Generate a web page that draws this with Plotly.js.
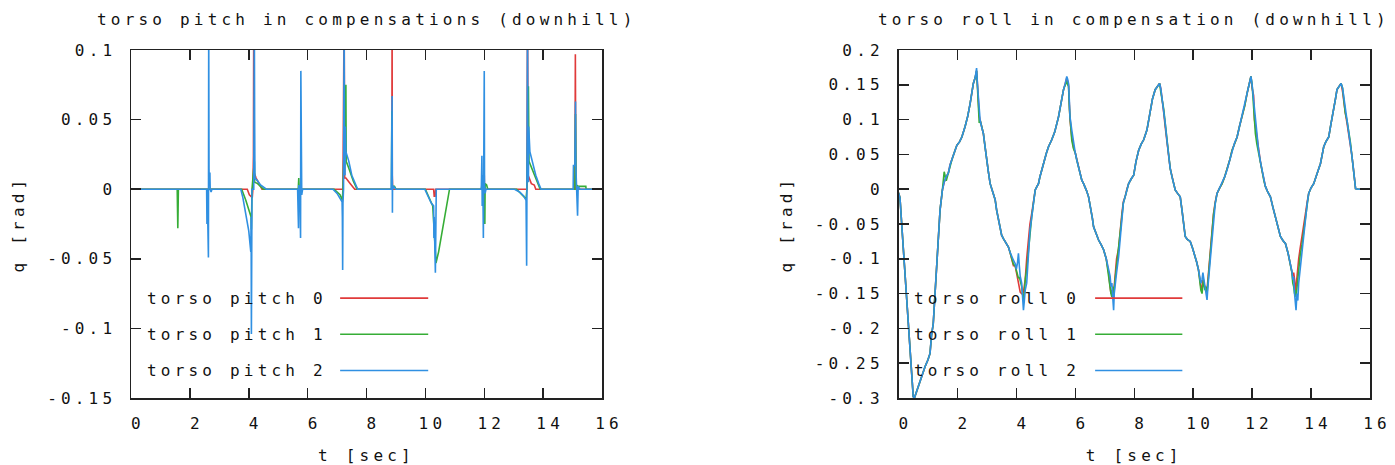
<!DOCTYPE html>
<html>
<head>
<meta charset="utf-8">
<script src="https://cdn.plot.ly/plotly-3.0.1.min.js"></script>
<style>
html,body{margin:0;padding:0;background:#fff;}
#chart{width:1395px;height:465px;}
svg text{letter-spacing:4.2px;}
</style>
</head>
<body>
<div id="chart"></div>
<script>
// ---------- labels ----------
const pitchTitle = "torso pitch in compensations (downhill)";
const rollTitle = "torso roll in compensation (downhill)";
const pitchNames = ["torso pitch 0", "torso pitch 1", "torso pitch 2"];
const rollNames = ["torso roll 0", "torso roll 1", "torso roll 2"];
const seriesColors = ["#e03a3a", "#36ad36", "#3090e2"];
const xTickVals = [0, 2, 4, 6, 8, 10, 12, 14, 16];
const xTickText = ["0", "2", "4", "6", "8", "10", "12", "14", "16"];
const pitchTickVals = [0.1, 0.05, 0, -0.05, -0.1, -0.15];
const pitchTickText = ["0.1", "0.05", "0", "-0.05", "-0.1", "-0.15"];
const rollTickVals = [0.2, 0.15, 0.1, 0.05, 0, -0.05, -0.1, -0.15, -0.2, -0.25, -0.3];
const rollTickText = ["0.2", "0.15", "0.1", "0.05", "0", "-0.05", "-0.1", "-0.15", "-0.2", "-0.25", "-0.3"];

// ---------- torso pitch: [t, q] samples ----------
const pitch0 = [
  [0,0],[3.95,0],[4.02,-0.004],[4.12,-0.006],[4.14,0],[4.16,0.024],[4.17,0.13],[4.18,0.012],[4.25,0.008],[4.35,0.004],[4.45,0],
  [7.2,0],[7.24,0.13],[7.26,0.008],[7.3,0.008],[7.45,0.004],[7.6,0],
  [8.86,0],[8.87,0.13],[8.875,0.01],[8.89,0],
  [10.28,0],[10.3,-0.005],[10.33,-0.005],[10.35,0],
  [11.98,0],[12.0,0.01],[12.01,0],
  [13.45,0],[13.47,0.13],[13.49,0.01],[13.6,0.004],[13.7,0.003],[13.75,0],
  [15.08,0],[15.095,0.097],[15.11,0.01],[15.13,0],[16,0]
];
const pitch1 = [
  [0,0],[1.57,0],[1.58,-0.014],[1.59,-0.028],[1.6,-0.014],[1.61,0],
  [3.76,0],[3.9,-0.008],[4.0,-0.014],[4.08,-0.02],[4.09,-0.029],[4.1,-0.012],[4.11,0],[4.19,0.02],[4.2,0.005],[4.3,0.004],[4.5,0],
  [5.68,0],[5.7,0.008],[5.72,-0.003],[5.74,0],
  [6.9,0],[7.1,-0.004],[7.18,-0.008],[7.2,0],[7.3,0.075],[7.31,0.02],[7.4,0.015],[7.55,0.006],[7.68,0],
  [8.85,0],[8.86,0.056],[8.87,0.002],[8.95,0.002],[9.0,0],
  [10.0,0],[10.15,-0.007],[10.25,-0.012],[10.3,-0.03],[10.36,-0.053],[10.45,-0.045],[10.55,-0.032],[10.65,-0.02],[10.72,-0.01],[10.82,0],
  [11.9,0],[11.93,0.004],[11.96,-0.004],[12.0,0.004],[12.02,-0.025],[12.03,0.004],[12.08,0.003],[12.12,0],
  [13.1,0],[13.3,-0.004],[13.42,-0.007],[13.45,0],[13.5,0.074],[13.52,0.02],[13.6,0.016],[13.7,0.01],[13.82,0.004],[13.9,0],
  [15.08,0],[15.1,0.054],[15.12,0.003],[15.2,0.002],[15.45,0.002],[15.46,0],[16,0]
];
const pitch2 = [
  [0,0],[2.57,0],[2.58,-0.025],[2.59,0],[2.63,-0.049],[2.64,0.12],[2.65,0.015],[2.66,0.003],[2.68,0.012],[2.69,0],[2.72,-0.002],[2.75,0],
  [3.73,0],[3.8,-0.006],[3.9,-0.018],[4.0,-0.03],[4.07,-0.045],[4.08,-0.02],[4.09,-0.104],[4.1,-0.045],[4.11,0],[4.17,0],[4.18,0.024],[4.19,0.12],[4.2,0.05],[4.21,0.008],[4.3,0.006],[4.4,0.003],[4.6,0],
  [5.66,0],[5.69,-0.028],[5.7,0.003],[5.74,-0.002],[5.76,-0.035],[5.77,0.085],[5.78,0.05],[5.79,0.005],[5.8,-0.004],[5.83,0],
  [6.86,0],[7.0,-0.003],[7.1,-0.006],[7.17,-0.009],[7.18,-0.02],[7.19,-0.058],[7.2,-0.01],[7.22,0],[7.24,0.12],[7.25,0.045],[7.27,0.01],[7.28,0.045],[7.3,0.027],[7.4,0.02],[7.5,0.01],[7.6,0.005],[7.7,0],
  [8.84,0],[8.85,0.017],[8.86,0.012],[8.87,0.067],[8.88,-0.017],[8.885,0.003],[8.9,0],[8.92,0.002],[9.0,0],
  [9.98,0],[10.1,-0.005],[10.2,-0.01],[10.28,-0.012],[10.29,-0.035],[10.3,-0.02],[10.34,-0.06],[10.35,-0.01],[10.37,0],
  [11.9,0],[11.92,0.024],[11.93,-0.012],[11.95,0.01],[11.97,-0.035],[11.98,0],[12.0,0.085],[12.01,0.003],[12.03,-0.003],[12.06,0],
  [13.03,0],[13.2,-0.002],[13.35,-0.005],[13.42,-0.008],[13.44,-0.055],[13.45,0],[13.47,0.12],[13.48,0.045],[13.5,0.005],[13.51,0.045],[13.55,0.027],[13.65,0.018],[13.75,0.01],[13.85,0.004],[13.93,0],
  [15.02,0],[15.03,0.017],[15.08,0.017],[15.1,0.063],[15.11,0.017],[15.14,0.003],[15.17,-0.019],[15.19,0.002],[15.25,0],[16,0]
];

// ---------- torso roll: shared time axis and three series ----------
const rollT = [
  0.00,0.05,0.16,0.25,0.33,0.42,0.50,0.54,0.62,0.70,
  0.79,0.90,1.00,1.07,1.12,1.18,1.24,1.30,1.36,1.41,
  1.49,1.55,1.62,1.69,1.75,1.81,1.92,1.98,2.07,2.15,
  2.26,2.35,2.43,2.50,2.54,2.60,2.65,2.68,2.71,2.74,
  2.77,2.83,2.88,2.94,2.99,3.05,3.11,3.16,3.22,3.28,
  3.33,3.40,3.45,3.50,3.56,3.65,3.73,3.78,3.84,3.90,
  3.96,4.00,4.04,4.07,4.10,4.13,4.18,4.21,4.24,4.27,
  4.30,4.35,4.38,4.41,4.46,4.52,4.58,4.64,4.70,4.75,
  4.80,4.86,4.95,5.02,5.09,5.15,5.20,5.30,5.36,5.43,
  5.50,5.55,5.60,5.66,5.71,5.74,5.77,5.80,5.82,5.88,
  5.94,6.00,6.05,6.12,6.22,6.28,6.33,6.38,6.45,6.52,
  6.58,6.62,6.70,6.79,6.88,6.96,7.05,7.13,7.18,7.21,
  7.24,7.27,7.30,7.32,7.35,7.40,7.47,7.52,7.58,7.63,
  7.69,7.75,7.81,7.90,7.98,8.06,8.15,8.24,8.32,8.43,
  8.50,8.54,8.62,8.71,8.80,8.86,8.90,8.94,9.00,9.05,
  9.11,9.17,9.22,9.28,9.33,9.39,9.47,9.56,9.62,9.68,
  9.73,9.80,9.90,9.98,10.07,10.12,10.18,10.22,10.26,10.30,
  10.33,10.35,10.40,10.44,10.47,10.50,10.54,10.58,10.63,10.69,
  10.75,10.81,10.90,10.98,11.07,11.15,11.24,11.32,11.40,11.49,
  11.57,11.66,11.75,11.83,11.90,11.96,12.00,12.05,12.08,12.11,
  12.16,12.22,12.28,12.33,12.40,12.45,12.53,12.62,12.70,12.79,
  12.87,12.96,13.05,13.13,13.22,13.30,13.35,13.38,13.41,13.44,
  13.47,13.49,13.52,13.55,13.58,13.63,13.69,13.75,13.81,13.87,
  13.92,14.00,14.09,14.20,14.32,14.38,14.43,14.50,14.60,14.68,
  14.77,14.83,14.88,14.95,15.02,15.07,15.11,15.16,15.22,15.28,
  15.34,15.38,15.43,15.47,15.51,15.60,16.00
];
const roll0 = [
  -0.005,-0.012,-0.083,-0.14,-0.183,-0.25,-0.298,-0.300,-0.29,-0.278,
  -0.267,-0.255,-0.245,-0.236,-0.21,-0.193,-0.15,-0.107,-0.07,-0.03,
  -0.001,0.01,0.018,0.023,0.035,0.042,0.056,0.063,0.068,0.075,
  0.09,0.105,0.123,0.14,0.152,0.16,0.17,0.15,0.12,0.105,
  0.099,0.088,0.08,0.06,0.042,0.025,0.008,0.002,-0.006,-0.015,
  -0.03,-0.045,-0.059,-0.066,-0.071,-0.078,-0.083,-0.09,-0.1,-0.11,
  -0.11,-0.12,-0.13,-0.135,-0.14,-0.148,-0.15,-0.15,-0.148,-0.14,
  -0.13,-0.1,-0.085,-0.07,-0.05,-0.035,-0.018,-0.001,0.004,0.008,
  0.018,0.028,0.04,0.052,0.061,0.066,0.071,0.082,0.092,0.104,
  0.12,0.132,0.143,0.152,0.16,0.155,0.15,0.12,0.1,0.075,
  0.06,0.052,0.042,0.03,0.013,0.008,0.004,-0.002,-0.011,-0.025,
  -0.042,-0.054,-0.064,-0.073,-0.08,-0.087,-0.1,-0.12,-0.14,-0.15,
  -0.145,-0.15,-0.155,-0.14,-0.12,-0.1,-0.085,-0.06,-0.035,-0.018,
  -0.011,0,0.008,0.015,0.02,0.04,0.056,0.065,0.071,0.085,
  0.1,0.114,0.13,0.143,0.148,0.152,0.145,0.133,0.11,0.09,
  0.065,0.047,0.03,0.018,0.008,-0.001,-0.006,-0.011,-0.03,-0.05,
  -0.068,-0.072,-0.075,-0.085,-0.097,-0.105,-0.116,-0.13,-0.14,-0.145,
  -0.13,-0.135,-0.14,-0.145,-0.145,-0.13,-0.1,-0.08,-0.06,-0.035,
  -0.018,-0.006,0.002,0.008,0.018,0.028,0.042,0.056,0.066,0.075,
  0.09,0.104,0.12,0.138,0.15,0.162,0.145,0.135,0.1,0.09,
  0.075,0.056,0.04,0.028,0.012,0.004,-0.004,-0.011,-0.025,-0.039,
  -0.055,-0.068,-0.074,-0.078,-0.092,-0.107,-0.118,-0.125,-0.12,-0.13,
  -0.15,-0.14,-0.13,-0.12,-0.1,-0.085,-0.07,-0.05,-0.035,-0.018,
  -0.006,0.002,0.008,0.022,0.037,0.05,0.061,0.068,0.075,0.095,
  0.114,0.13,0.143,0.148,0.152,0.14,0.125,0.11,0.095,0.08,
  0.066,0.05,0.032,0.015,0.001,0,0
];
const roll1 = [
  -0.005,-0.012,-0.083,-0.14,-0.183,-0.25,-0.298,-0.300,-0.29,-0.278,
  -0.267,-0.255,-0.245,-0.236,-0.21,-0.193,-0.15,-0.107,-0.07,-0.03,
  -0.001,0.025,0.012,0.023,0.035,0.042,0.056,0.063,0.068,0.075,
  0.09,0.105,0.123,0.14,0.152,0.16,0.17,0.145,0.115,0.095,
  0.099,0.088,0.08,0.06,0.042,0.025,0.008,0.002,-0.006,-0.015,
  -0.03,-0.045,-0.059,-0.066,-0.071,-0.078,-0.083,-0.09,-0.1,-0.108,
  -0.11,-0.118,-0.125,-0.128,-0.126,-0.13,-0.14,-0.15,-0.16,-0.15,
  -0.13,-0.115,-0.1,-0.087,-0.06,-0.04,-0.02,-0.001,0.004,0.008,
  0.018,0.028,0.04,0.052,0.061,0.066,0.071,0.082,0.092,0.104,
  0.12,0.132,0.143,0.15,0.155,0.15,0.148,0.115,0.1,0.07,
  0.058,0.052,0.042,0.03,0.013,0.008,0.004,-0.002,-0.011,-0.025,
  -0.042,-0.054,-0.064,-0.073,-0.08,-0.087,-0.1,-0.125,-0.145,-0.15,
  -0.155,-0.14,-0.15,-0.145,-0.13,-0.11,-0.09,-0.065,-0.04,-0.02,
  -0.011,0,0.008,0.015,0.02,0.04,0.056,0.065,0.071,0.085,
  0.1,0.114,0.13,0.143,0.148,0.152,0.14,0.13,0.115,0.095,
  0.07,0.047,0.03,0.018,0.008,-0.001,-0.006,-0.011,-0.03,-0.05,
  -0.068,-0.072,-0.075,-0.085,-0.097,-0.105,-0.116,-0.13,-0.145,-0.15,
  -0.14,-0.13,-0.145,-0.14,-0.15,-0.135,-0.11,-0.085,-0.06,-0.037,
  -0.02,-0.006,0.002,0.008,0.018,0.028,0.042,0.056,0.066,0.075,
  0.09,0.104,0.12,0.138,0.15,0.162,0.15,0.115,0.095,0.08,
  0.065,0.05,0.04,0.028,0.012,0.004,-0.004,-0.011,-0.025,-0.039,
  -0.055,-0.068,-0.074,-0.078,-0.092,-0.107,-0.12,-0.135,-0.14,-0.15,
  -0.145,-0.155,-0.14,-0.13,-0.115,-0.095,-0.08,-0.06,-0.04,-0.02,
  -0.006,0.002,0.008,0.022,0.037,0.05,0.061,0.068,0.075,0.095,
  0.114,0.13,0.143,0.148,0.152,0.145,0.13,0.11,0.099,0.085,
  0.066,0.05,0.032,0.015,0.001,0,0
];
const roll2 = [
  -0.005,-0.012,-0.083,-0.14,-0.183,-0.25,-0.298,-0.300,-0.29,-0.278,
  -0.267,-0.255,-0.245,-0.236,-0.21,-0.193,-0.15,-0.107,-0.07,-0.03,
  -0.001,0.01,0.018,0.023,0.035,0.042,0.056,0.063,0.068,0.075,
  0.09,0.105,0.123,0.14,0.152,0.16,0.174,0.15,0.128,0.11,
  0.099,0.088,0.08,0.06,0.042,0.025,0.008,0.002,-0.006,-0.015,
  -0.03,-0.045,-0.059,-0.066,-0.071,-0.078,-0.083,-0.09,-0.097,-0.102,
  -0.107,-0.115,-0.105,-0.092,-0.11,-0.125,-0.135,-0.15,-0.174,-0.16,
  -0.145,-0.135,-0.11,-0.087,-0.06,-0.04,-0.02,-0.001,0.004,0.008,
  0.018,0.028,0.04,0.052,0.061,0.066,0.071,0.082,0.092,0.104,
  0.12,0.132,0.143,0.152,0.162,0.158,0.152,0.125,0.104,0.085,
  0.066,0.052,0.042,0.03,0.013,0.008,0.004,-0.002,-0.011,-0.025,
  -0.042,-0.054,-0.064,-0.073,-0.08,-0.087,-0.1,-0.116,-0.125,-0.14,
  -0.135,-0.155,-0.174,-0.15,-0.135,-0.12,-0.097,-0.07,-0.04,-0.02,
  -0.011,0,0.008,0.015,0.02,0.04,0.056,0.065,0.071,0.085,
  0.1,0.114,0.13,0.143,0.148,0.152,0.145,0.133,0.115,0.095,
  0.07,0.047,0.03,0.018,0.008,-0.001,-0.006,-0.011,-0.03,-0.05,
  -0.068,-0.072,-0.075,-0.085,-0.097,-0.105,-0.116,-0.125,-0.135,-0.13,
  -0.12,-0.126,-0.14,-0.15,-0.159,-0.14,-0.12,-0.102,-0.07,-0.039,
  -0.02,-0.006,0.002,0.008,0.018,0.028,0.042,0.056,0.066,0.075,
  0.09,0.104,0.12,0.138,0.15,0.162,0.15,0.128,0.11,0.095,
  0.075,0.056,0.04,0.028,0.012,0.004,-0.004,-0.011,-0.025,-0.039,
  -0.055,-0.068,-0.074,-0.078,-0.092,-0.107,-0.118,-0.13,-0.126,-0.15,
  -0.165,-0.174,-0.15,-0.16,-0.135,-0.115,-0.097,-0.07,-0.039,-0.02,
  -0.006,0.002,0.008,0.022,0.037,0.05,0.061,0.068,0.075,0.095,
  0.114,0.13,0.143,0.148,0.152,0.145,0.133,0.115,0.099,0.085,
  0.066,0.05,0.032,0.015,0.001,0,0
];

// ---------- build traces ----------
const pitchSeries = [pitch0, pitch1, pitch2];
const rollSeries = [roll0, roll1, roll2];
const traces = [];
pitchSeries.forEach((s, i) => {
  traces.push({
    type: 'scatter', mode: 'lines', name: pitchNames[i],
    x: s.map(p => p[0]), y: s.map(p => p[1]),
    xaxis: 'x', yaxis: 'y',
    line: {color: seriesColors[i], width: 1.6},
    showlegend: false, hoverinfo: 'skip'
  });
});
rollSeries.forEach((s, i) => {
  traces.push({
    type: 'scatter', mode: 'lines', name: rollNames[i],
    x: rollT, y: s,
    xaxis: 'x2', yaxis: 'y2',
    line: {color: seriesColors[i], width: 1.6},
    showlegend: false, hoverinfo: 'skip'
  });
});

const FONT = 'DejaVu Sans Mono, monospace';
const FS = 16;
const txtColor = '#111';

function axisX(dom, yref) {
  return {
    domain: dom, anchor: yref, range: [0, 16],
    tickmode: 'array', tickvals: xTickVals, ticktext: xTickText,
    ticks: 'inside', ticklen: 10, tickwidth: 1.5, tickcolor: '#222',
    showline: true, linecolor: '#222', linewidth: 1.5, mirror: 'ticks',
    showgrid: false, zeroline: false, ticklabelstandoff: 10, ticklabelshift: 7,
    tickfont: {family: FONT, size: FS, color: txtColor},
    title: {text: 't [sec]', font: {family: FONT, size: FS, color: txtColor}, standoff: 18}
  };
}
function axisY(dom, xref, range, vals, txt) {
  return {
    domain: dom, anchor: xref, range: range,
    tickmode: 'array', tickvals: vals, ticktext: txt,
    ticks: 'inside', ticklen: 10, tickwidth: 1.5, tickcolor: '#222',
    showline: true, linecolor: '#222', linewidth: 1.5, mirror: 'ticks',
    showgrid: false, zeroline: false, ticklabelstandoff: 10,
    tickfont: {family: FONT, size: FS, color: txtColor},
    title: {text: 'q [rad]', font: {family: FONT, size: FS, color: txtColor}, standoff: 18}
  };
}

const PW = 1395 - 131 - 25;
const leftDom = [0, 471 / PW];
const rightDom = [(898.5 - 131) / PW, 1];

const annotations = [];
const shapes = [];
[[pitchTitle, 'x domain'], [rollTitle, 'x2 domain']].forEach(([t, xr]) => {
  annotations.push({text: t, xref: xr, yref: 'paper', x: 0.5, y: 1.089, xanchor: 'center', yanchor: 'middle',
    showarrow: false, font: {family: FONT, size: FS, color: txtColor}});
});
const legRowsY = [0.287, 0.183, 0.079];
pitchNames.forEach((n, i) => {
  annotations.push({text: n, xref: 'x domain', yref: 'y domain', x: 0.42, y: legRowsY[i], xanchor: 'right', yanchor: 'middle',
    showarrow: false, font: {family: FONT, size: FS, color: txtColor}});
  shapes.push({type: 'line', xref: 'x domain', yref: 'y domain', x0: 0.444, x1: 0.631, y0: legRowsY[i], y1: legRowsY[i],
    line: {color: seriesColors[i], width: 1.6}});
});
rollNames.forEach((n, i) => {
  annotations.push({text: n, xref: 'x2 domain', yref: 'y2 domain', x: 0.39, y: legRowsY[i], xanchor: 'right', yanchor: 'middle',
    showarrow: false, font: {family: FONT, size: FS, color: txtColor}});
  shapes.push({type: 'line', xref: 'x2 domain', yref: 'y2 domain', x0: 0.417, x1: 0.602, y0: legRowsY[i], y1: legRowsY[i],
    line: {color: seriesColors[i], width: 1.6}});
});

const layout = {
  width: 1395, height: 465,
  margin: {l: 131, r: 25, t: 50, b: 67, pad: 0},
  paper_bgcolor: '#fff', plot_bgcolor: '#fff',
  font: {family: FONT, size: FS, color: txtColor},
  showlegend: false,
  xaxis: axisX(leftDom, 'y'),
  yaxis: axisY([0, 1], 'x', [-0.15, 0.1], pitchTickVals, pitchTickText),
  xaxis2: axisX(rightDom, 'y2'),
  yaxis2: axisY([0, 1], 'x2', [-0.3, 0.2], rollTickVals, rollTickText),
  annotations: annotations,
  shapes: shapes
};

Plotly.newPlot('chart', traces, layout, {staticPlot: true, displayModeBar: false});
</script>
</body>
</html>
